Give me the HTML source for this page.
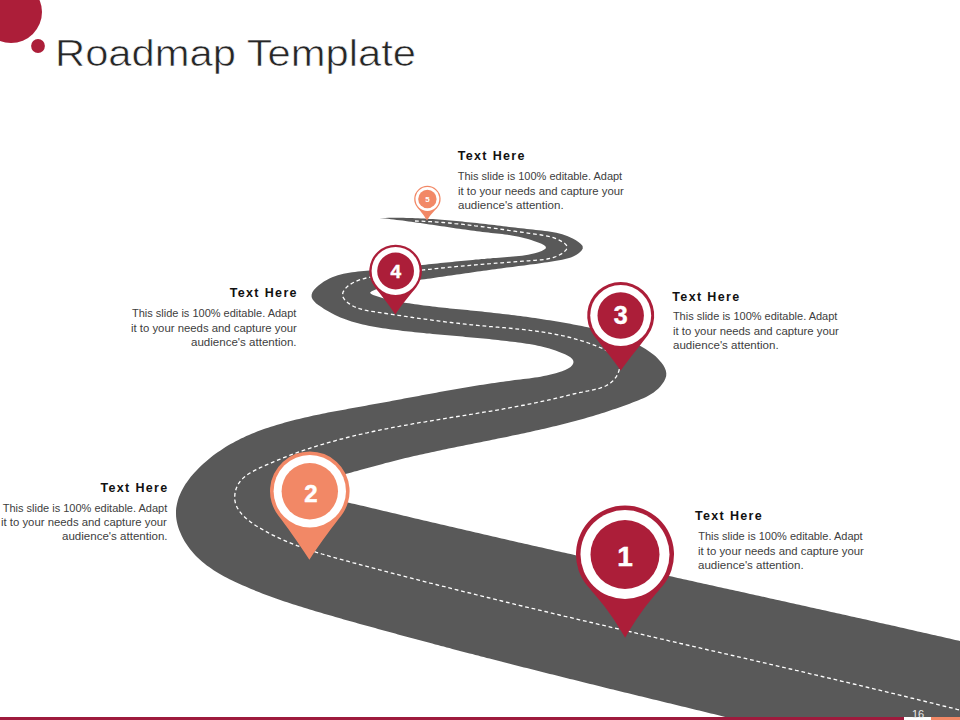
<!DOCTYPE html>
<html><head><meta charset="utf-8"><style>
html,body{margin:0;padding:0;}
body{width:960px;height:720px;position:relative;overflow:hidden;background:#fff;font-family:"Liberation Sans",sans-serif;}
.t{position:absolute;white-space:nowrap;}
.title{font-size:36px;color:#262626;-webkit-text-stroke:0.6px #fff;left:54.5px;top:31.5px;line-height:44px;transform:scaleX(1.159);transform-origin:0 0;}
.h{font-size:12.5px;font-weight:bold;color:#111;letter-spacing:1.35px;line-height:14px;}
.b{font-size:11px;color:#404040;line-height:14.3px;}
.num{position:absolute;left:912px;top:707px;font-size:11px;color:#e8e8e8;line-height:14px;}
</style></head><body>
<svg width="960" height="720" viewBox="0 0 960 720" style="position:absolute;left:0;top:0;font-family:'Liberation Sans',sans-serif">
<circle cx="11" cy="12" r="31" fill="#AC1E39"/>
<circle cx="38" cy="46" r="6.9" fill="#AC1E39"/>
<path d="M379.3 218.1 L382.3 218.0 L385.4 217.9 L388.4 217.8 L391.4 217.8 L394.3 217.8 L397.3 217.8 L400.3 217.8 L403.3 217.8 L406.3 217.9 L409.2 218.0 L412.2 218.1 L415.2 218.2 L418.1 218.3 L421.1 218.4 L424.0 218.6 L427.0 218.7 L429.9 218.9 L432.9 219.1 L435.8 219.3 L438.7 219.5 L441.7 219.7 L444.6 220.0 L447.5 220.2 L450.5 220.5 L453.4 220.7 L456.3 221.0 L459.3 221.3 L462.2 221.6 L465.1 221.9 L468.0 222.2 L471.0 222.5 L473.9 222.8 L476.8 223.1 L479.7 223.5 L482.7 223.8 L485.6 224.1 L488.5 224.5 L491.5 224.8 L494.4 225.1 L497.3 225.5 L500.3 225.8 L503.2 226.2 L506.2 226.5 L509.1 226.9 L512.1 227.2 L515.0 227.6 L518.0 227.9 L520.9 228.2 L523.9 228.6 L526.8 228.9 L529.8 229.2 L532.8 229.6 L535.8 229.9 L538.7 230.2 L541.7 230.5 L544.7 230.9 L547.6 231.3 L550.6 231.7 L553.5 232.2 L556.4 232.8 L559.3 233.5 L562.2 234.3 L565.0 235.2 L567.8 236.3 L570.5 237.5 L573.2 238.8 L575.9 240.3 L578.4 242.1 L580.9 244.0 L582.6 246.1 L582.8 248.4 L581.4 250.7 L579.0 252.9 L576.5 254.7 L573.7 256.2 L570.9 257.4 L568.1 258.3 L565.1 259.0 L562.2 259.7 L559.2 260.2 L556.2 260.7 L553.3 261.2 L550.4 261.7 L547.4 262.2 L544.5 262.6 L541.6 263.0 L538.7 263.5 L535.8 263.9 L532.9 264.2 L530.0 264.6 L527.1 265.0 L524.2 265.4 L521.3 265.8 L518.4 266.1 L515.5 266.5 L512.6 266.9 L509.7 267.3 L506.8 267.6 L503.8 268.0 L500.9 268.4 L498.0 268.8 L495.1 269.2 L492.1 269.6 L489.2 270.0 L486.3 270.4 L483.3 270.8 L480.4 271.2 L477.5 271.6 L474.5 272.1 L471.6 272.5 L468.6 272.9 L465.7 273.3 L462.7 273.7 L459.8 274.2 L456.9 274.6 L453.9 275.0 L451.0 275.4 L448.0 275.8 L445.1 276.3 L442.2 276.7 L439.2 277.1 L436.3 277.5 L433.4 277.9 L430.5 278.4 L427.6 278.8 L424.6 279.2 L421.7 279.6 L418.8 280.0 L415.9 280.4 L413.0 280.8 L410.1 281.2 L407.2 281.7 L404.3 282.1 L401.4 282.6 L398.5 283.2 L395.6 283.8 L392.6 284.4 L389.7 285.1 L386.7 285.9 L383.7 286.8 L380.7 287.7 L377.6 288.8 L374.5 289.9 L371.7 291.2 L370.1 292.5 L370.8 293.7 L373.1 294.9 L376.2 296.0 L379.3 297.0 L382.4 297.9 L385.4 298.7 L388.4 299.4 L391.4 300.1 L394.4 300.8 L397.3 301.3 L400.3 301.9 L403.2 302.4 L406.1 302.9 L409.1 303.3 L412.0 303.8 L414.9 304.2 L417.8 304.6 L420.7 305.0 L423.7 305.4 L426.6 305.8 L429.5 306.1 L432.4 306.5 L435.3 306.8 L438.3 307.2 L441.2 307.5 L444.1 307.8 L447.0 308.1 L449.9 308.4 L452.8 308.7 L455.8 309.0 L458.7 309.3 L461.6 309.6 L464.5 309.8 L467.5 310.1 L470.4 310.4 L473.3 310.7 L476.2 311.0 L479.2 311.3 L482.1 311.6 L485.0 311.9 L488.0 312.2 L490.9 312.5 L493.9 312.9 L496.8 313.2 L499.7 313.5 L502.7 313.9 L505.6 314.2 L508.6 314.6 L511.5 314.9 L514.5 315.3 L517.4 315.7 L520.4 316.1 L523.3 316.5 L526.3 316.8 L529.2 317.3 L532.1 317.7 L535.1 318.1 L538.0 318.5 L541.0 319.0 L543.9 319.4 L546.8 319.9 L549.8 320.3 L552.7 320.8 L555.6 321.3 L558.6 321.8 L561.5 322.3 L564.4 322.8 L567.3 323.3 L570.3 323.8 L573.2 324.4 L576.1 324.9 L579.0 325.5 L581.9 326.1 L584.8 326.7 L587.7 327.3 L590.5 328.0 L593.4 328.6 L596.3 329.4 L599.1 330.1 L602.0 330.8 L604.8 331.6 L607.6 332.5 L610.4 333.4 L613.2 334.3 L616.0 335.2 L618.8 336.2 L621.5 337.3 L624.3 338.3 L627.0 339.5 L629.7 340.7 L632.4 341.9 L635.1 343.2 L637.7 344.6 L640.4 346.0 L643.0 347.5 L645.6 349.0 L648.1 350.7 L650.6 352.4 L653.0 354.2 L655.3 356.1 L657.5 358.2 L659.5 360.4 L661.5 362.7 L663.2 365.1 L664.7 367.7 L665.8 370.4 L666.3 373.2 L666.2 376.0 L665.3 378.8 L664.0 381.5 L662.2 384.1 L660.3 386.5 L658.2 388.7 L656.0 390.6 L653.7 392.4 L651.2 394.0 L648.7 395.5 L646.1 396.9 L643.4 398.2 L640.7 399.3 L638.0 400.5 L635.2 401.6 L632.5 402.6 L629.7 403.7 L626.9 404.7 L624.1 405.7 L621.3 406.7 L618.5 407.7 L615.7 408.7 L612.9 409.6 L610.1 410.6 L607.3 411.5 L604.5 412.4 L601.7 413.3 L598.8 414.2 L596.0 415.1 L593.2 415.9 L590.3 416.7 L587.5 417.6 L584.6 418.4 L581.8 419.2 L578.9 420.0 L576.1 420.8 L573.2 421.5 L570.3 422.3 L567.5 423.0 L564.6 423.8 L561.7 424.5 L558.8 425.2 L556.0 425.9 L553.1 426.6 L550.2 427.3 L547.3 428.0 L544.4 428.7 L541.5 429.3 L538.6 430.0 L535.7 430.6 L532.8 431.3 L530.0 431.9 L527.1 432.6 L524.2 433.2 L521.3 433.8 L518.3 434.4 L515.4 435.0 L512.5 435.6 L509.6 436.2 L506.7 436.9 L503.8 437.4 L500.9 438.0 L498.0 438.6 L495.1 439.2 L492.2 439.8 L489.3 440.4 L486.4 441.0 L483.5 441.6 L480.6 442.2 L477.6 442.7 L474.7 443.3 L471.8 443.9 L468.9 444.5 L466.0 445.1 L463.1 445.7 L460.2 446.2 L457.3 446.8 L454.4 447.4 L451.5 448.0 L448.6 448.6 L445.7 449.2 L442.8 449.8 L439.9 450.4 L437.1 451.0 L434.2 451.7 L431.3 452.3 L428.4 452.9 L425.5 453.5 L422.6 454.2 L419.8 454.8 L416.9 455.5 L414.0 456.1 L411.2 456.8 L408.3 457.5 L405.4 458.1 L402.6 458.8 L399.7 459.5 L396.9 460.2 L394.0 460.9 L391.2 461.7 L388.3 462.4 L385.5 463.1 L382.7 463.9 L379.9 464.7 L377.0 465.4 L374.2 466.2 L371.4 467.0 L368.5 467.8 L365.7 468.5 L362.9 469.3 L360.0 470.1 L357.1 470.9 L354.3 471.6 L351.4 472.4 L348.5 473.2 L345.5 473.9 L342.6 474.6 L339.6 475.3 L336.6 476.0 L333.6 476.7 L330.6 477.3 L327.5 478.0 L324.5 478.6 L321.3 479.2 L318.2 479.8 L315.1 480.4 L312.1 481.2 L309.1 482.1 L306.2 483.1 L303.5 484.4 L301.2 485.9 L300.0 487.4 L300.2 488.9 L301.7 490.3 L304.2 491.7 L307.0 492.8 L309.9 493.9 L312.8 494.7 L315.8 495.5 L318.9 496.2 L321.9 496.9 L325.0 497.5 L328.0 498.2 L331.0 498.8 L334.0 499.5 L337.0 500.1 L340.0 500.8 L342.9 501.4 L345.9 502.1 L348.9 502.8 L351.8 503.4 L354.7 504.1 L357.6 504.8 L360.6 505.4 L363.5 506.1 L366.4 506.8 L369.3 507.5 L372.2 508.2 L375.0 508.8 L377.9 509.5 L380.8 510.2 L383.7 510.9 L386.5 511.6 L389.4 512.3 L392.3 512.9 L395.1 513.6 L398.0 514.3 L400.9 515.0 L403.7 515.7 L406.6 516.3 L409.5 517.0 L412.3 517.7 L415.2 518.4 L418.1 519.1 L420.9 519.7 L423.8 520.4 L426.7 521.1 L429.5 521.8 L432.4 522.4 L435.3 523.1 L438.1 523.8 L441.0 524.5 L443.9 525.1 L446.8 525.8 L449.6 526.5 L452.5 527.1 L455.4 527.8 L458.3 528.5 L461.1 529.1 L464.0 529.8 L466.9 530.5 L469.8 531.1 L472.6 531.8 L475.5 532.5 L478.4 533.1 L481.3 533.8 L484.1 534.5 L487.0 535.1 L489.9 535.8 L492.8 536.5 L495.7 537.1 L498.5 537.8 L501.4 538.4 L504.3 539.1 L507.2 539.7 L510.1 540.4 L512.9 541.1 L515.8 541.7 L518.7 542.4 L521.6 543.0 L524.5 543.7 L527.4 544.3 L530.2 545.0 L533.1 545.7 L536.0 546.3 L538.9 547.0 L541.8 547.6 L544.7 548.3 L547.6 548.9 L550.4 549.6 L553.3 550.2 L556.2 550.9 L559.1 551.5 L562.0 552.2 L564.9 552.8 L567.8 553.5 L570.6 554.1 L573.5 554.8 L576.4 555.4 L579.3 556.1 L582.2 556.7 L585.1 557.4 L588.0 558.0 L590.9 558.6 L593.8 559.3 L596.7 559.9 L599.5 560.6 L602.4 561.2 L605.3 561.9 L608.2 562.5 L611.1 563.2 L614.0 563.8 L616.9 564.4 L619.8 565.1 L622.7 565.7 L625.6 566.4 L628.5 567.0 L631.4 567.7 L634.2 568.3 L637.1 568.9 L640.0 569.6 L642.9 570.2 L645.8 570.9 L648.7 571.5 L651.6 572.2 L654.5 572.8 L657.4 573.4 L660.3 574.1 L663.2 574.7 L666.1 575.4 L669.0 576.0 L671.9 576.6 L674.8 577.3 L677.7 577.9 L680.6 578.6 L683.4 579.2 L686.3 579.8 L689.2 580.5 L692.1 581.1 L695.0 581.8 L697.9 582.4 L700.8 583.0 L703.7 583.7 L706.6 584.3 L709.5 585.0 L712.4 585.6 L715.3 586.2 L718.2 586.9 L721.1 587.5 L724.0 588.2 L726.9 588.8 L729.8 589.4 L732.7 590.1 L735.6 590.7 L738.5 591.3 L741.4 592.0 L744.2 592.6 L747.1 593.3 L750.0 593.9 L752.9 594.5 L755.8 595.2 L758.7 595.8 L761.6 596.5 L764.5 597.1 L767.4 597.7 L770.3 598.4 L773.2 599.0 L776.1 599.7 L779.0 600.3 L781.9 600.9 L784.8 601.6 L787.7 602.2 L790.6 602.9 L793.5 603.5 L796.4 604.2 L799.2 604.8 L802.1 605.4 L805.0 606.1 L807.9 606.7 L810.8 607.4 L813.7 608.0 L816.6 608.7 L819.5 609.3 L822.4 609.9 L825.3 610.6 L828.2 611.2 L831.1 611.9 L834.0 612.5 L836.9 613.2 L839.8 613.8 L842.6 614.5 L845.5 615.1 L848.4 615.7 L851.3 616.4 L854.2 617.0 L857.1 617.7 L860.0 618.3 L862.9 619.0 L865.8 619.6 L868.7 620.3 L871.5 620.9 L874.4 621.6 L877.3 622.2 L880.2 622.9 L883.1 623.5 L886.0 624.2 L888.9 624.8 L891.8 625.5 L894.7 626.1 L897.5 626.8 L900.4 627.4 L903.3 628.1 L906.2 628.8 L909.1 629.4 L912.0 630.1 L914.9 630.7 L917.7 631.4 L920.6 632.0 L923.5 632.7 L926.4 633.3 L929.3 634.0 L932.2 634.7 L935.1 635.3 L937.9 636.0 L940.8 636.6 L943.7 637.3 L946.6 638.0 L949.5 638.6 L952.3 639.3 L955.2 639.9 L958.1 640.6 L961.0 641.3 L963.9 641.9 L966.7 642.6 L969.6 643.3 L972.5 643.9 L975.4 644.6 L978.3 645.3 L981.1 645.9 L984.0 646.6 L986.9 647.3 L989.8 648.0 L992.6 648.6 L995.5 649.3 L998.4 650.0 L1001.3 650.6 L1004.1 651.3 L1007.0 652.0 L1009.9 652.7 L1010 760 L800 760 L800.0 735.0 L797.1 734.3 L794.2 733.6 L791.4 732.9 L788.5 732.2 L785.6 731.5 L782.7 730.8 L779.9 730.1 L777.0 729.4 L774.1 728.7 L771.2 728.0 L768.4 727.3 L765.5 726.6 L762.6 725.9 L759.7 725.2 L756.9 724.5 L754.0 723.8 L751.1 723.1 L748.2 722.4 L745.4 721.8 L742.5 721.1 L739.6 720.4 L736.7 719.7 L733.9 719.0 L731.0 718.3 L728.1 717.6 L725.2 716.9 L722.3 716.2 L719.5 715.5 L716.6 714.8 L713.7 714.1 L710.8 713.4 L708.0 712.7 L705.1 712.0 L702.2 711.3 L699.3 710.6 L696.5 709.9 L693.6 709.2 L690.7 708.5 L687.8 707.8 L685.0 707.1 L682.1 706.4 L679.2 705.7 L676.3 705.0 L673.4 704.3 L670.6 703.6 L667.7 702.9 L664.8 702.2 L661.9 701.5 L659.1 700.8 L656.2 700.1 L653.3 699.4 L650.4 698.7 L647.6 698.0 L644.7 697.3 L641.8 696.6 L638.9 695.9 L636.1 695.2 L633.2 694.5 L630.3 693.8 L627.4 693.1 L624.6 692.4 L621.7 691.7 L618.8 691.0 L615.9 690.3 L613.1 689.6 L610.2 688.9 L607.3 688.2 L604.4 687.5 L601.6 686.7 L598.7 686.0 L595.8 685.3 L592.9 684.6 L590.1 683.9 L587.2 683.2 L584.3 682.5 L581.4 681.8 L578.6 681.1 L575.7 680.3 L572.8 679.6 L569.9 678.9 L567.1 678.2 L564.2 677.5 L561.3 676.8 L558.5 676.1 L555.6 675.3 L552.7 674.6 L549.8 673.9 L547.0 673.2 L544.1 672.5 L541.2 671.7 L538.4 671.0 L535.5 670.3 L532.6 669.6 L529.7 668.8 L526.9 668.1 L524.0 667.4 L521.1 666.7 L518.3 665.9 L515.4 665.2 L512.5 664.5 L509.7 663.7 L506.8 663.0 L503.9 662.3 L501.1 661.5 L498.2 660.8 L495.3 660.1 L492.4 659.3 L489.6 658.6 L486.7 657.9 L483.8 657.1 L481.0 656.4 L478.1 655.6 L475.3 654.9 L472.4 654.1 L469.5 653.4 L466.7 652.7 L463.8 651.9 L460.9 651.2 L458.1 650.4 L455.2 649.7 L452.3 648.9 L449.5 648.1 L446.6 647.4 L443.8 646.6 L440.9 645.9 L438.0 645.1 L435.2 644.4 L432.3 643.6 L429.5 642.8 L426.6 642.1 L423.7 641.3 L420.9 640.5 L418.0 639.8 L415.2 639.0 L412.3 638.2 L409.4 637.5 L406.6 636.7 L403.7 635.9 L400.9 635.2 L398.0 634.4 L395.2 633.6 L392.3 632.8 L389.5 632.0 L386.6 631.3 L383.7 630.5 L380.9 629.7 L378.0 628.9 L375.2 628.1 L372.3 627.3 L369.5 626.5 L366.6 625.7 L363.8 625.0 L360.9 624.2 L358.1 623.4 L355.2 622.6 L352.4 621.8 L349.5 621.0 L346.7 620.2 L343.8 619.4 L341.0 618.5 L338.2 617.7 L335.3 616.9 L332.5 616.1 L329.6 615.3 L326.8 614.5 L323.9 613.7 L321.1 612.8 L318.3 612.0 L315.4 611.2 L312.6 610.3 L309.8 609.5 L306.9 608.6 L304.1 607.7 L301.3 606.8 L298.5 606.0 L295.6 605.1 L292.8 604.2 L290.0 603.2 L287.2 602.3 L284.4 601.4 L281.6 600.4 L278.8 599.5 L276.0 598.5 L273.2 597.5 L270.5 596.5 L267.7 595.4 L264.9 594.4 L262.1 593.4 L259.4 592.3 L256.6 591.2 L253.9 590.1 L251.1 589.0 L248.4 587.8 L245.7 586.6 L243.0 585.5 L240.2 584.2 L237.5 583.0 L234.8 581.8 L232.2 580.5 L229.5 579.2 L226.8 577.8 L224.2 576.4 L221.6 575.0 L219.0 573.5 L216.5 572.0 L214.0 570.5 L211.6 568.8 L209.1 567.1 L206.8 565.4 L204.4 563.6 L202.2 561.7 L200.0 559.8 L197.8 557.8 L195.7 555.7 L193.7 553.5 L191.8 551.2 L189.9 548.9 L188.1 546.5 L186.4 544.0 L184.7 541.4 L183.2 538.7 L181.8 536.1 L180.6 533.3 L179.4 530.6 L178.4 527.8 L177.6 524.9 L176.9 522.1 L176.4 519.3 L176.1 516.4 L176.0 513.6 L176.0 510.8 L176.2 508.0 L176.7 505.3 L177.3 502.5 L178.0 499.8 L178.9 497.1 L180.0 494.5 L181.2 491.8 L182.5 489.2 L183.9 486.7 L185.5 484.1 L187.2 481.7 L189.0 479.2 L190.8 476.8 L192.8 474.5 L194.8 472.2 L197.0 469.9 L199.1 467.7 L201.4 465.5 L203.6 463.4 L206.0 461.4 L208.3 459.4 L210.7 457.5 L213.1 455.6 L215.5 453.8 L218.0 452.1 L220.5 450.4 L223.0 448.7 L225.5 447.1 L228.0 445.6 L230.6 444.1 L233.2 442.7 L235.7 441.3 L238.4 439.9 L241.0 438.6 L243.6 437.4 L246.3 436.1 L249.0 435.0 L251.7 433.8 L254.4 432.7 L257.1 431.6 L259.9 430.6 L262.6 429.6 L265.4 428.6 L268.1 427.7 L270.9 426.8 L273.7 425.9 L276.5 425.0 L279.3 424.2 L282.1 423.4 L284.9 422.6 L287.8 421.8 L290.6 421.0 L293.5 420.3 L296.3 419.6 L299.2 418.9 L302.0 418.2 L304.9 417.5 L307.8 416.9 L310.6 416.2 L313.5 415.6 L316.4 415.0 L319.3 414.4 L322.2 413.8 L325.1 413.2 L328.0 412.6 L330.9 412.1 L333.8 411.5 L336.7 411.0 L339.6 410.4 L342.5 409.9 L345.5 409.4 L348.4 408.8 L351.3 408.3 L354.2 407.8 L357.1 407.2 L360.1 406.7 L363.0 406.2 L365.9 405.7 L368.9 405.1 L371.8 404.6 L374.7 404.1 L377.7 403.5 L380.6 403.0 L383.5 402.5 L386.5 401.9 L389.4 401.4 L392.4 400.8 L395.3 400.3 L398.2 399.7 L401.2 399.2 L404.1 398.6 L407.0 398.1 L410.0 397.5 L412.9 397.0 L415.8 396.4 L418.8 395.9 L421.7 395.3 L424.6 394.8 L427.6 394.3 L430.5 393.7 L433.4 393.2 L436.3 392.7 L439.3 392.1 L442.2 391.6 L445.1 391.1 L448.0 390.5 L451.0 390.0 L453.9 389.5 L456.8 389.0 L459.7 388.5 L462.6 388.0 L465.6 387.5 L468.5 387.0 L471.4 386.5 L474.3 386.1 L477.2 385.6 L480.1 385.1 L483.0 384.7 L485.9 384.2 L488.8 383.8 L491.7 383.3 L494.6 382.9 L497.5 382.5 L500.4 382.1 L503.2 381.7 L506.1 381.3 L509.0 380.9 L511.9 380.5 L514.7 380.1 L517.6 379.8 L520.5 379.4 L523.3 379.1 L526.2 378.7 L529.1 378.4 L531.9 378.0 L534.8 377.6 L537.7 377.2 L540.7 376.7 L543.6 376.1 L546.6 375.5 L549.6 374.8 L552.7 374.1 L555.8 373.2 L558.9 372.3 L562.1 371.2 L565.2 370.0 L568.1 368.6 L570.6 366.9 L572.4 365.0 L573.4 362.9 L573.4 360.9 L572.3 359.0 L570.4 357.3 L567.9 355.7 L565.0 354.2 L561.8 352.9 L558.6 351.7 L555.5 350.5 L552.4 349.5 L549.4 348.6 L546.5 347.8 L543.5 347.0 L540.7 346.3 L537.8 345.7 L535.0 345.1 L532.1 344.6 L529.3 344.1 L526.5 343.7 L523.7 343.2 L520.9 342.8 L518.1 342.5 L515.3 342.1 L512.4 341.7 L509.5 341.4 L506.7 341.0 L503.8 340.7 L500.9 340.4 L498.0 340.0 L495.1 339.7 L492.2 339.4 L489.2 339.1 L486.3 338.8 L483.4 338.5 L480.4 338.3 L477.5 338.0 L474.5 337.7 L471.5 337.4 L468.6 337.2 L465.6 336.9 L462.6 336.6 L459.6 336.3 L456.6 336.1 L453.6 335.8 L450.6 335.6 L447.7 335.3 L444.7 335.0 L441.7 334.7 L438.7 334.5 L435.7 334.2 L432.7 333.9 L429.7 333.6 L426.7 333.4 L423.8 333.1 L420.8 332.8 L417.8 332.5 L414.8 332.2 L411.9 331.8 L408.9 331.5 L406.0 331.2 L403.0 330.9 L400.1 330.5 L397.2 330.1 L394.2 329.8 L391.3 329.4 L388.4 329.0 L385.5 328.6 L382.6 328.2 L379.8 327.8 L376.9 327.3 L374.0 326.8 L371.2 326.3 L368.4 325.7 L365.5 325.1 L362.7 324.5 L359.9 323.8 L357.1 323.1 L354.3 322.3 L351.5 321.4 L348.7 320.5 L346.0 319.5 L343.2 318.5 L340.4 317.4 L337.7 316.2 L335.0 314.9 L332.2 313.5 L329.5 312.1 L326.8 310.5 L324.1 308.9 L321.4 307.1 L318.7 305.3 L316.2 303.4 L314.1 301.3 L312.5 299.2 L311.6 297.0 L311.6 294.7 L312.4 292.3 L313.9 290.0 L316.0 287.7 L318.5 285.5 L321.2 283.4 L323.9 281.6 L326.7 280.0 L329.4 278.6 L332.2 277.3 L335.0 276.2 L337.8 275.3 L340.7 274.5 L343.5 273.8 L346.4 273.2 L349.2 272.7 L352.1 272.3 L355.0 271.9 L357.9 271.6 L360.8 271.3 L363.7 271.1 L366.6 270.8 L369.5 270.5 L372.4 270.3 L375.4 270.0 L378.3 269.7 L381.2 269.4 L384.2 269.1 L387.1 268.8 L390.0 268.5 L393.0 268.2 L396.0 267.9 L398.9 267.5 L401.9 267.2 L404.8 266.9 L407.8 266.6 L410.8 266.3 L413.7 265.9 L416.7 265.6 L419.6 265.3 L422.6 265.0 L425.6 264.7 L428.5 264.3 L431.5 264.0 L434.5 263.7 L437.4 263.4 L440.4 263.1 L443.4 262.8 L446.3 262.5 L449.3 262.2 L452.2 261.9 L455.2 261.6 L458.1 261.3 L461.0 261.0 L464.0 260.7 L466.9 260.4 L469.8 260.2 L472.8 259.9 L475.7 259.6 L478.6 259.4 L481.5 259.1 L484.4 258.9 L487.3 258.6 L490.2 258.4 L493.1 258.1 L496.0 257.9 L498.9 257.7 L501.8 257.4 L504.6 257.2 L507.5 257.0 L510.4 256.8 L513.2 256.5 L516.1 256.3 L519.0 256.1 L522.0 255.7 L525.0 255.3 L528.1 254.8 L531.4 254.1 L534.8 253.2 L538.3 252.2 L541.7 250.9 L544.3 249.6 L545.9 248.2 L545.8 246.7 L544.2 245.2 L541.5 243.8 L538.2 242.5 L534.6 241.2 L531.2 240.1 L528.0 239.1 L524.9 238.3 L521.9 237.5 L518.9 236.8 L516.1 236.2 L513.2 235.7 L510.5 235.3 L507.7 234.8 L504.9 234.5 L502.2 234.1 L499.4 233.8 L496.6 233.5 L493.9 233.2 L491.1 232.9 L488.3 232.6 L485.4 232.3 L482.6 231.9 L479.7 231.6 L476.9 231.2 L474.0 230.8 L471.1 230.4 L468.1 230.0 L465.2 229.6 L462.3 229.2 L459.3 228.8 L456.3 228.4 L453.4 227.9 L450.4 227.5 L447.4 227.1 L444.4 226.6 L441.4 226.2 L438.4 225.7 L435.4 225.3 L432.4 224.8 L429.4 224.4 L426.4 224.0 L423.4 223.5 L420.4 223.1 L417.4 222.7 L414.4 222.2 L411.4 221.8 L408.5 221.4 L405.5 221.0 L402.6 220.6 L399.6 220.2 L396.7 219.9 L393.8 219.5 L390.9 219.2 L388.0 218.8 L385.1 218.5 L382.2 218.2 L379.4 217.9 Z" fill="#595959"/>
<path d="M415.0 221.0 L418.3 221.1 L421.5 221.2 L424.7 221.4 L427.8 221.5 L430.9 221.7 L434.0 221.9 L437.1 222.1 L440.1 222.3 L443.1 222.5 L446.1 222.8 L449.1 223.0 L452.0 223.3 L454.9 223.6 L457.8 223.8 L460.7 224.1 L463.6 224.4 L466.5 224.8 L469.3 225.1 L472.1 225.4 L475.0 225.8 L477.8 226.1 L480.6 226.5 L483.4 226.8 L486.2 227.2 L489.0 227.6 L491.8 228.0 L494.7 228.3 L497.5 228.7 L500.3 229.1 L503.1 229.5 L506.0 229.9 L508.8 230.4 L511.7 230.8 L514.6 231.2 L517.4 231.6 L520.3 232.0 L523.3 232.4 L526.2 232.8 L529.2 233.3 L532.2 233.7 L535.2 234.1 L538.2 234.5 L541.3 235.0 L544.3 235.5 L547.4 236.1 L550.4 236.8 L553.4 237.7 L556.4 238.8 L559.3 240.1 L562.1 241.7 L564.7 243.4 L566.5 245.4 L567.1 247.5 L566.3 249.6 L564.4 251.7 L561.8 253.6 L559.0 255.2 L556.1 256.5 L553.1 257.6 L550.1 258.4 L547.1 259.0 L544.1 259.5 L541.0 259.8 L538.0 260.1 L534.9 260.3 L531.9 260.5 L528.8 260.8 L525.8 261.0 L522.8 261.2 L519.8 261.4 L516.8 261.6 L513.9 261.9 L510.9 262.1 L507.9 262.3 L505.0 262.5 L502.1 262.8 L499.1 263.0 L496.2 263.2 L493.3 263.4 L490.4 263.7 L487.5 263.9 L484.5 264.1 L481.6 264.4 L478.7 264.6 L475.9 264.8 L473.0 265.1 L470.1 265.3 L467.2 265.6 L464.3 265.8 L461.4 266.1 L458.5 266.4 L455.6 266.6 L452.8 266.9 L449.9 267.2 L447.0 267.5 L444.1 267.8 L441.2 268.0 L438.3 268.3 L435.4 268.6 L432.4 269.0 L429.5 269.3 L426.6 269.6 L423.7 269.9 L420.7 270.3 L417.8 270.6 L414.8 271.0 L411.9 271.3 L408.9 271.7 L405.9 272.1 L402.9 272.5 L399.9 272.8 L396.9 273.2 L393.9 273.7 L390.8 274.1 L387.8 274.5 L384.7 274.9 L381.6 275.4 L378.5 275.9 L375.4 276.3 L372.3 276.8 L369.3 277.4 L366.2 278.0 L363.3 278.8 L360.4 279.6 L357.6 280.6 L355.0 281.7 L352.5 283.0 L350.1 284.4 L347.9 286.1 L346.0 287.9 L344.2 290.1 L343.0 292.3 L342.5 294.7 L343.0 297.1 L344.4 299.3 L346.3 301.5 L348.7 303.4 L351.2 305.1 L353.8 306.5 L356.6 307.7 L359.4 308.7 L362.3 309.5 L365.2 310.2 L368.2 310.8 L371.1 311.3 L374.1 311.7 L377.1 312.2 L380.1 312.6 L383.1 313.1 L386.1 313.5 L389.1 314.0 L392.1 314.4 L395.1 314.9 L398.0 315.3 L401.0 315.7 L404.0 316.2 L406.9 316.6 L409.9 317.0 L412.9 317.5 L415.8 317.9 L418.8 318.3 L421.7 318.7 L424.7 319.1 L427.6 319.5 L430.5 319.9 L433.5 320.3 L436.4 320.7 L439.4 321.1 L442.3 321.4 L445.2 321.8 L448.2 322.2 L451.1 322.5 L454.0 322.9 L457.0 323.2 L459.9 323.5 L462.8 323.9 L465.7 324.2 L468.7 324.5 L471.6 324.8 L474.5 325.1 L477.4 325.4 L480.4 325.7 L483.3 325.9 L486.2 326.2 L489.1 326.5 L492.1 326.7 L495.0 327.0 L497.9 327.2 L500.8 327.5 L503.8 327.7 L506.7 328.0 L509.6 328.2 L512.5 328.5 L515.4 328.8 L518.4 329.1 L521.3 329.4 L524.2 329.7 L527.1 330.0 L530.1 330.4 L533.0 330.7 L535.9 331.1 L538.8 331.5 L541.7 331.9 L544.7 332.4 L547.6 332.9 L550.5 333.4 L553.4 333.9 L556.3 334.5 L559.2 335.0 L562.2 335.7 L565.1 336.3 L568.0 337.0 L570.9 337.7 L573.8 338.5 L576.7 339.3 L579.6 340.2 L582.6 341.1 L585.5 342.0 L588.4 343.0 L591.3 344.1 L594.2 345.1 L597.1 346.3 L600.0 347.5 L602.9 348.7 L605.7 350.1 L608.4 351.5 L610.9 353.0 L613.2 354.6 L615.2 356.4 L616.9 358.3 L618.3 360.4 L619.2 362.7 L619.7 365.1 L619.6 367.7 L619.0 370.6 L618.0 373.5 L616.5 376.3 L614.7 378.9 L612.7 381.1 L610.5 383.0 L608.1 384.6 L605.6 386.0 L602.9 387.1 L600.1 388.1 L597.2 388.9 L594.2 389.6 L591.2 390.3 L588.2 390.9 L585.2 391.4 L582.2 392.1 L579.3 392.7 L576.4 393.4 L573.5 394.0 L570.6 394.7 L567.8 395.4 L564.9 396.1 L562.1 396.8 L559.2 397.5 L556.4 398.2 L553.5 398.9 L550.7 399.5 L547.8 400.2 L544.9 400.8 L542.1 401.4 L539.2 402.0 L536.3 402.7 L533.4 403.2 L530.5 403.8 L527.6 404.4 L524.7 405.0 L521.8 405.5 L518.9 406.1 L516.0 406.6 L513.1 407.2 L510.2 407.7 L507.3 408.2 L504.4 408.7 L501.5 409.3 L498.5 409.8 L495.6 410.3 L492.7 410.8 L489.8 411.3 L486.8 411.7 L483.9 412.2 L481.0 412.7 L478.0 413.2 L475.1 413.7 L472.2 414.2 L469.2 414.6 L466.3 415.1 L463.4 415.6 L460.4 416.0 L457.5 416.5 L454.6 417.0 L451.6 417.4 L448.7 417.9 L445.8 418.4 L442.8 418.9 L439.9 419.3 L437.0 419.8 L434.0 420.3 L431.1 420.8 L428.2 421.3 L425.2 421.8 L422.3 422.2 L419.4 422.7 L416.5 423.2 L413.5 423.7 L410.6 424.3 L407.7 424.8 L404.8 425.3 L401.9 425.8 L399.0 426.4 L396.1 426.9 L393.1 427.4 L390.2 428.0 L387.3 428.6 L384.4 429.1 L381.6 429.7 L378.7 430.3 L375.8 430.9 L372.9 431.5 L370.0 432.1 L367.2 432.8 L364.3 433.4 L361.4 434.1 L358.6 434.7 L355.7 435.4 L352.8 436.1 L350.0 436.8 L347.1 437.5 L344.3 438.2 L341.5 439.0 L338.6 439.7 L335.8 440.5 L333.0 441.3 L330.1 442.1 L327.3 442.9 L324.5 443.7 L321.7 444.5 L318.9 445.4 L316.0 446.3 L313.2 447.2 L310.4 448.1 L307.6 449.0 L304.8 449.9 L302.0 450.9 L299.2 451.9 L296.4 452.9 L293.6 453.9 L290.8 454.9 L288.0 456.0 L285.2 457.1 L282.5 458.2 L279.7 459.3 L276.9 460.4 L274.1 461.6 L271.3 462.8 L268.5 464.0 L265.8 465.2 L263.0 466.4 L260.2 467.7 L257.4 469.0 L254.7 470.4 L252.0 471.8 L249.5 473.3 L247.0 474.9 L244.7 476.7 L242.6 478.6 L240.6 480.7 L238.9 483.0 L237.5 485.5 L236.3 488.3 L235.4 491.2 L234.9 494.1 L234.7 497.1 L234.8 499.9 L235.3 502.6 L236.1 505.2 L237.2 507.6 L238.6 510.0 L240.2 512.2 L242.0 514.4 L244.0 516.5 L246.2 518.5 L248.5 520.4 L250.9 522.2 L253.4 524.0 L256.0 525.7 L258.7 527.3 L261.4 528.9 L264.0 530.4 L266.7 531.9 L269.4 533.4 L272.2 534.8 L274.9 536.1 L277.6 537.4 L280.3 538.7 L283.1 539.9 L285.8 541.1 L288.6 542.3 L291.3 543.4 L294.1 544.5 L296.9 545.6 L299.7 546.6 L302.5 547.6 L305.3 548.6 L308.1 549.5 L310.9 550.5 L313.7 551.4 L316.5 552.3 L319.3 553.1 L322.1 554.0 L324.9 554.8 L327.8 555.7 L330.6 556.5 L333.4 557.3 L336.3 558.1 L339.1 558.9 L341.9 559.6 L344.8 560.4 L347.6 561.2 L350.5 562.0 L353.3 562.8 L356.1 563.5 L359.0 564.3 L361.8 565.1 L364.7 565.8 L367.5 566.6 L370.4 567.4 L373.2 568.1 L376.0 568.9 L378.9 569.7 L381.7 570.4 L384.6 571.2 L387.4 571.9 L390.3 572.7 L393.1 573.4 L396.0 574.2 L398.8 574.9 L401.7 575.7 L404.5 576.4 L407.4 577.2 L410.3 577.9 L413.1 578.7 L416.0 579.4 L418.8 580.1 L421.7 580.9 L424.5 581.6 L427.4 582.3 L430.3 583.1 L433.1 583.8 L436.0 584.5 L438.8 585.3 L441.7 586.0 L444.6 586.7 L447.4 587.5 L450.3 588.2 L453.2 588.9 L456.0 589.6 L458.9 590.4 L461.8 591.1 L464.6 591.8 L467.5 592.5 L470.4 593.2 L473.2 593.9 L476.1 594.7 L479.0 595.4 L481.8 596.1 L484.7 596.8 L487.6 597.5 L490.4 598.2 L493.3 598.9 L496.2 599.6 L499.1 600.3 L501.9 601.0 L504.8 601.8 L507.7 602.5 L510.6 603.2 L513.4 603.9 L516.3 604.6 L519.2 605.3 L522.1 606.0 L524.9 606.7 L527.8 607.4 L530.7 608.1 L533.6 608.7 L536.4 609.4 L539.3 610.1 L542.2 610.8 L545.1 611.5 L547.9 612.2 L550.8 612.9 L553.7 613.6 L556.6 614.3 L559.5 615.0 L562.3 615.7 L565.2 616.4 L568.1 617.0 L571.0 617.7 L573.9 618.4 L576.8 619.1 L579.6 619.8 L582.5 620.5 L585.4 621.1 L588.3 621.8 L591.2 622.5 L594.1 623.2 L596.9 623.9 L599.8 624.6 L602.7 625.2 L605.6 625.9 L608.5 626.6 L611.4 627.3 L614.2 628.0 L617.1 628.6 L620.0 629.3 L622.9 630.0 L625.8 630.7 L628.7 631.3 L631.6 632.0 L634.4 632.7 L637.3 633.4 L640.2 634.0 L643.1 634.7 L646.0 635.4 L648.9 636.1 L651.8 636.7 L654.7 637.4 L657.5 638.1 L660.4 638.8 L663.3 639.4 L666.2 640.1 L669.1 640.8 L672.0 641.4 L674.9 642.1 L677.8 642.8 L680.6 643.5 L683.5 644.1 L686.4 644.8 L689.3 645.5 L692.2 646.1 L695.1 646.8 L698.0 647.5 L700.9 648.2 L703.7 648.8 L706.6 649.5 L709.5 650.2 L712.4 650.8 L715.3 651.5 L718.2 652.2 L721.1 652.9 L724.0 653.5 L726.9 654.2 L729.7 654.9 L732.6 655.5 L735.5 656.2 L738.4 656.9 L741.3 657.6 L744.2 658.2 L747.1 658.9 L749.9 659.6 L752.8 660.2 L755.7 660.9 L758.6 661.6 L761.5 662.3 L764.4 662.9 L767.3 663.6 L770.2 664.3 L773.0 665.0 L775.9 665.6 L778.8 666.3 L781.7 667.0 L784.6 667.7 L787.5 668.3 L790.3 669.0 L793.2 669.7 L796.1 670.4 L799.0 671.0 L801.9 671.7 L804.8 672.4 L807.6 673.1 L810.5 673.8 L813.4 674.4 L816.3 675.1 L819.2 675.8 L822.1 676.5 L824.9 677.2 L827.8 677.8 L830.7 678.5 L833.6 679.2 L836.5 679.9 L839.3 680.6 L842.2 681.3 L845.1 682.0 L848.0 682.6 L850.9 683.3 L853.7 684.0 L856.6 684.7 L859.5 685.4 L862.4 686.1 L865.2 686.8 L868.1 687.5 L871.0 688.2 L873.9 688.9 L876.7 689.6 L879.6 690.2 L882.5 690.9 L885.4 691.6 L888.2 692.3 L891.1 693.0 L894.0 693.7 L896.9 694.4 L899.7 695.1 L902.6 695.8 L905.5 696.5 L908.3 697.2 L911.2 698.0 L914.1 698.7 L916.9 699.4 L919.8 700.1 L922.7 700.8 L925.5 701.5 L928.4 702.2 L931.3 702.9 L934.1 703.6 L937.0 704.3 L939.9 705.1 L942.7 705.8 L945.6 706.5 L948.5 707.2 L951.3 707.9 L954.2 708.6 L957.0 709.4 L959.9 710.1" fill="none" stroke="#fff" stroke-width="1.3" stroke-dasharray="3.8 2.8"/>
<path d="M417.29 207.48 A13.20 13.20 0 1 1 437.51 207.48 C434.97 210.52 431.32 213.12 427.00 220.60 C422.68 213.12 419.83 210.52 417.29 207.48 Z" fill="#F28866"/><circle cx="427.4" cy="199.0" r="11.9" fill="#fff"/><circle cx="427.4" cy="199.0" r="9.2" fill="#F28866"/><text x="427.4" y="202.2" font-size="8.0" text-anchor="middle" font-weight="bold" fill="#fff" stroke="#fff" stroke-width="0.00">5</text><path d="M374.88 287.19 A26.30 26.30 0 1 1 416.32 287.19 C411.47 293.41 403.61 301.80 395.30 314.60 C386.99 301.80 379.73 293.41 374.88 287.19 Z" fill="#AC1E39"/><circle cx="395.6" cy="271.0" r="24.0" fill="#fff"/><circle cx="395.6" cy="271.0" r="18.4" fill="#AC1E39"/><text x="395.8" y="277.6" font-size="19.0" text-anchor="middle" font-weight="bold" fill="#fff" stroke="#fff" stroke-width="0.50">4</text><path d="M593.60 335.19 A33.50 33.50 0 1 1 647.80 335.19 C641.89 343.32 630.26 356.98 620.80 370.50 C611.34 356.98 599.51 343.32 593.60 335.19 Z" fill="#AC1E39"/><circle cx="620.7" cy="315.5" r="30.5" fill="#fff"/><circle cx="620.7" cy="315.5" r="23.2" fill="#AC1E39"/><text x="620.7" y="323.8" font-size="25.0" text-anchor="middle" font-weight="bold" fill="#fff" stroke="#fff" stroke-width="0.50">3</text><path d="M278.44 515.70 A39.80 39.80 0 1 1 341.16 515.70 C333.81 525.11 321.71 540.74 309.40 559.70 C297.09 540.74 285.79 525.11 278.44 515.70 Z" fill="#F28866"/><circle cx="309.8" cy="491.2" r="36.2" fill="#fff"/><circle cx="309.8" cy="491.2" r="28.2" fill="#F28866"/><text x="311.0" y="501.8" font-size="24.0" text-anchor="middle" font-weight="bold" fill="#fff" stroke="#fff" stroke-width="0.50">2</text><path d="M587.46 586.00 A49.00 49.00 0 1 1 662.54 586.00 C653.09 597.26 641.84 608.88 625.20 637.70 C608.56 608.88 596.91 597.26 587.46 586.00 Z" fill="#AC1E39"/><circle cx="625.0" cy="554.5" r="44.5" fill="#fff"/><circle cx="625.0" cy="554.5" r="34.5" fill="#AC1E39"/><text x="625.0" y="566.0" font-size="28.0" text-anchor="middle" font-weight="bold" fill="#fff" stroke="#fff" stroke-width="0.50">1</text>
<rect x="0" y="717" width="904" height="3" fill="#9E1B3D"/>
<rect x="904" y="717" width="27" height="3" fill="#ffffff"/>
<rect x="931" y="717" width="29" height="3" fill="#F28866"/>
</svg>
<div class="t title">Roadmap Template</div>
<div class="t h" style="left:457.7px;top:149.1px">Text Here</div>
<div class="t b" style="left:457.7px;top:169.4px;transform:scaleX(1.000);transform-origin:0 0">This slide is 100% editable. Adapt</div>
<div class="t b" style="left:457.7px;top:184.4px;transform:scaleX(1.031);transform-origin:0 0">it to your needs and capture your</div>
<div class="t b" style="left:457.7px;top:198.1px;transform:scaleX(1.050);transform-origin:0 0">audience's attention.</div>
<div class="t h" style="right:662.1px;top:285.7px">Text Here</div>
<div class="t b" style="right:663.6px;top:306.3px;transform:scaleX(1.000);transform-origin:100% 0">This slide is 100% editable. Adapt</div>
<div class="t b" style="right:663.6px;top:321.2px;transform:scaleX(1.031);transform-origin:100% 0">it to your needs and capture your</div>
<div class="t b" style="right:663.6px;top:335.4px;transform:scaleX(1.050);transform-origin:100% 0">audience's attention.</div>
<div class="t h" style="left:672.3px;top:290.1px">Text Here</div>
<div class="t b" style="left:672.9px;top:309.3px;transform:scaleX(1.000);transform-origin:0 0">This slide is 100% editable. Adapt</div>
<div class="t b" style="left:672.9px;top:324.2px;transform:scaleX(1.031);transform-origin:0 0">it to your needs and capture your</div>
<div class="t b" style="left:672.9px;top:338.0px;transform:scaleX(1.050);transform-origin:0 0">audience's attention.</div>
<div class="t h" style="right:791.4px;top:481.2px">Text Here</div>
<div class="t b" style="right:792.8px;top:500.7px;transform:scaleX(1.000);transform-origin:100% 0">This slide is 100% editable. Adapt</div>
<div class="t b" style="right:792.8px;top:515.3px;transform:scaleX(1.031);transform-origin:100% 0">it to your needs and capture your</div>
<div class="t b" style="right:792.8px;top:529.4px;transform:scaleX(1.050);transform-origin:100% 0">audience's attention.</div>
<div class="t h" style="left:694.9px;top:509.1px">Text Here</div>
<div class="t b" style="left:698.2px;top:528.9px;transform:scaleX(1.000);transform-origin:0 0">This slide is 100% editable. Adapt</div>
<div class="t b" style="left:698.2px;top:544.2px;transform:scaleX(1.031);transform-origin:0 0">it to your needs and capture your</div>
<div class="t b" style="left:698.2px;top:558.0px;transform:scaleX(1.050);transform-origin:0 0">audience's attention.</div>
<div class="num">16</div>
</body></html>
